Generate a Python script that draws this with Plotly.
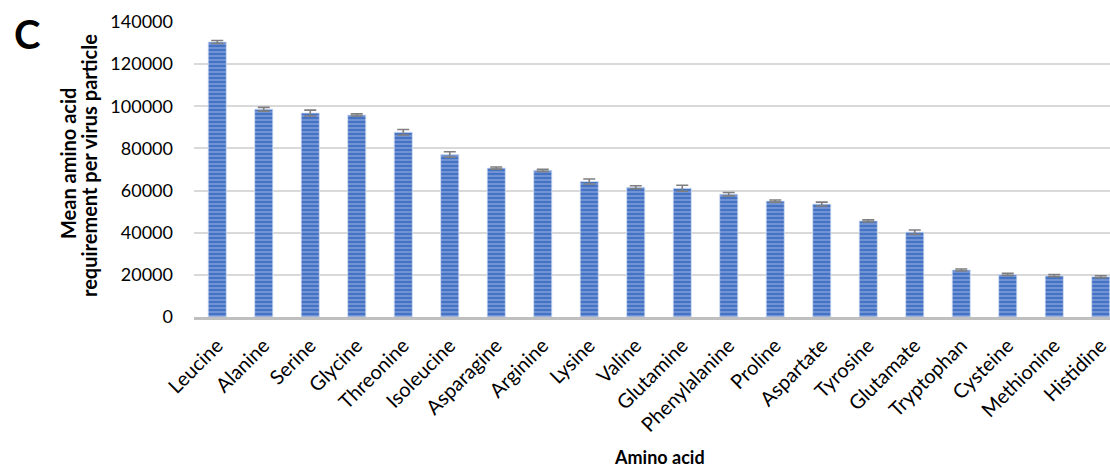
import plotly.graph_objects as go

amino_acids = ["Leucine", "Alanine", "Serine", "Glycine", "Threonine", "Isoleucine",
               "Asparagine", "Arginine", "Lysine", "Valine", "Glutamine", "Phenylalanine",
               "Proline", "Aspartate", "Tyrosine", "Glutamate", "Tryptophan", "Cysteine",
               "Methionine", "Histidine"]
mean_req = [130500, 98600, 96800, 95900, 87700, 77100, 70700, 69600, 64300, 61600,
            61100, 58300, 55000, 53600, 45600, 40300, 22300, 20200, 19600, 19100]
err = [700, 900, 1400, 500, 1300, 1300, 500, 500, 1200, 700,
       1400, 800, 500, 900, 500, 1000, 500, 500, 500, 500]
y_ticks = [0, 20000, 40000, 60000, 80000, 100000, 120000, 140000]

W, H = 1110, 468
ml, mr, mt, mb = 194, 0, 22, 151
pw = W - ml - mr
ph = H - mt - mb

fig = go.Figure(go.Bar(
    x=amino_acids, y=mean_req,
    width=0.39,
    marker=dict(color="#4472C4",
                line=dict(color="#D6E0F3", width=0.8),
                pattern=dict(shape="-", fgcolor="#B4C7EC", bgcolor="#4472C4",
                             size=4, solidity=0.4)),
    error_y=dict(type="data", array=err, visible=True, color="#7F7F7F",
                 thickness=1.6, width=6),
))

font = "Lato, 'Open Sans', sans-serif"
fig.update_layout(
    width=W, height=H,
    margin=dict(l=ml, r=mr, t=mt, b=mb, autoexpand=False),
    paper_bgcolor="white", plot_bgcolor="white",
    showlegend=False,
    font=dict(family=font, size=18, color="black"),
)
fig.update_xaxes(
    range=[-0.5, -0.5 + pw / 46.5],
    tickangle=-45, tickfont=dict(size=20),
    showline=True, linecolor="#BFBFBF", linewidth=3,
    showgrid=False, ticks="", automargin=False, ticklabelstandoff=6,
)
fig.update_yaxes(
    range=[0, 140000], tickvals=y_ticks, ticktext=[str(v) for v in y_ticks],
    showgrid=True, gridcolor="#D9D9D9", gridwidth=1.5,
    zeroline=False, showline=False, ticks="", ticklabelstandoff=20,
    tickfont=dict(size=18), automargin=False,
)
# y-axis title (two lines placed individually)
fig.add_annotation(text="<b>Mean amino acid</b>",
                   xref="paper", yref="paper", x=(68 - ml) / pw, y=(H - mb - 164) / ph,
                   xanchor="center", yanchor="middle", textangle=-90, showarrow=False,
                   font=dict(size=20))
fig.add_annotation(text="<b>requirement per virus particle</b>",
                   xref="paper", yref="paper", x=(89 - ml) / pw, y=(H - mb - 166) / ph,
                   xanchor="center", yanchor="middle", textangle=-90, showarrow=False,
                   font=dict(size=20))
fig.add_annotation(text="<b>Amino acid</b>", xref="x", yref="paper", x=9.5,
                   y=(H - mb - 457) / ph, xanchor="center", yanchor="middle",
                   showarrow=False, font=dict(size=18))
fig.add_annotation(text="<b>C</b>", xref="paper", yref="paper", x=(27 - ml) / pw,
                   y=(H - mb - 34) / ph, xanchor="center", yanchor="middle",
                   showarrow=False, font=dict(size=40))

fig.write_html("out.html", config={"displayModeBar": False},
               post_script="document.body.style.margin='0';")
